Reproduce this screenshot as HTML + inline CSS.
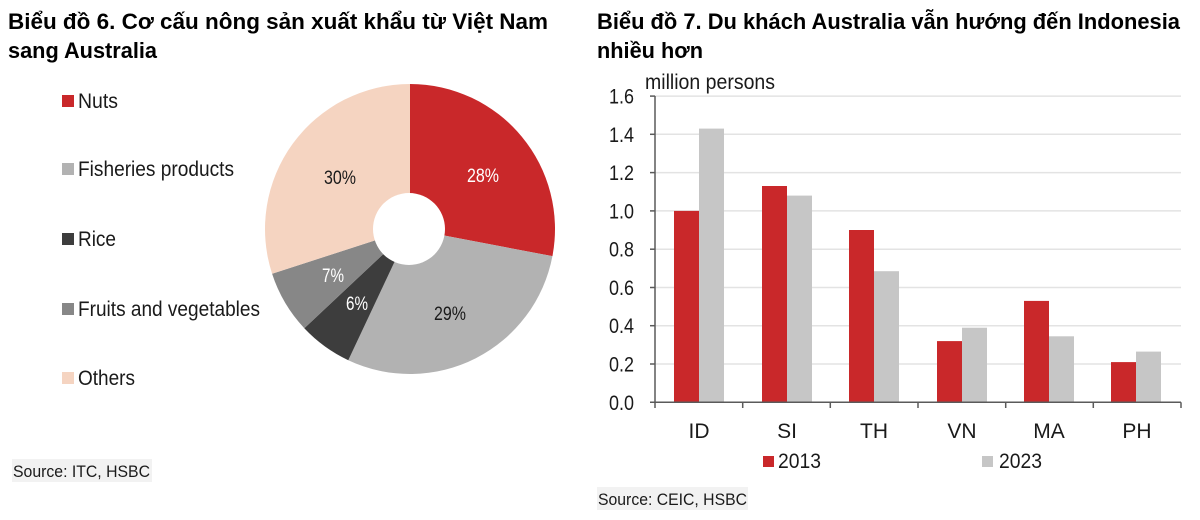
<!DOCTYPE html>
<html><head><meta charset="utf-8"><style>
html,body{margin:0;padding:0;background:#fff;}
svg{display:block;}
text{font-family:"Liberation Sans",Arial,sans-serif;fill:#1a1a1a;}
.t{font-weight:bold;font-size:22px;fill:#000;}
</style></head><body>
<svg width="1200" height="520" viewBox="0 0 1200 520" xmlns="http://www.w3.org/2000/svg">
<rect width="1200" height="520" fill="#fff"/>
<!-- Titles -->
<text class="t" x="8" y="29" textLength="540" lengthAdjust="spacingAndGlyphs">Biểu đồ 6. Cơ cấu nông sản xuất khẩu từ Việt Nam</text>
<text class="t" x="8" y="58" textLength="149" lengthAdjust="spacingAndGlyphs">sang Australia</text>
<text class="t" x="597" y="29" textLength="583" lengthAdjust="spacingAndGlyphs">Biểu đồ 7. Du khách Australia vẫn hướng đến Indonesia</text>
<text class="t" x="597" y="58" textLength="106" lengthAdjust="spacingAndGlyphs">nhiều hơn</text>

<!-- Left legend -->
<g font-size="21">
<rect x="62" y="95" width="12" height="12" fill="#c9282a"/>
<text x="78" y="108" textLength="40" lengthAdjust="spacingAndGlyphs">Nuts</text>
<rect x="62" y="163" width="12" height="12" fill="#b2b2b2"/>
<text x="78" y="176" textLength="156" lengthAdjust="spacingAndGlyphs">Fisheries products</text>
<rect x="62" y="233" width="12" height="12" fill="#3d3d3d"/>
<text x="78" y="246" textLength="38" lengthAdjust="spacingAndGlyphs">Rice</text>
<rect x="62" y="303" width="12" height="12" fill="#878787"/>
<text x="78" y="316" textLength="182" lengthAdjust="spacingAndGlyphs">Fruits and vegetables</text>
<rect x="62" y="372" width="12" height="12" fill="#f5d4c1"/>
<text x="78" y="385" textLength="57" lengthAdjust="spacingAndGlyphs">Others</text>
</g>

<!-- Pie -->
<path d="M410 229 L410 84 A145 145 0 0 1 552.43 256.17 Z" fill="#c9282a"/>
<path d="M410 229 L552.43 256.17 A145 145 0 0 1 348.26 360.20 Z" fill="#b2b2b2"/>
<path d="M410 229 L348.26 360.20 A145 145 0 0 1 304.30 328.26 Z" fill="#3d3d3d"/>
<path d="M410 229 L304.30 328.26 A145 145 0 0 1 272.10 273.81 Z" fill="#878787"/>
<path d="M410 229 L272.10 273.81 A145 145 0 0 1 410 84 Z" fill="#f5d4c1"/>
<circle cx="409" cy="229" r="36" fill="#fff"/>
<g font-size="19" text-anchor="middle">
<text x="483" y="182" style="fill:#fff" textLength="32" lengthAdjust="spacingAndGlyphs">28%</text>
<text x="450" y="320" textLength="32" lengthAdjust="spacingAndGlyphs">29%</text>
<text x="357" y="310" style="fill:#fff" textLength="22" lengthAdjust="spacingAndGlyphs">6%</text>
<text x="333" y="282" style="fill:#fff" textLength="22" lengthAdjust="spacingAndGlyphs">7%</text>
<text x="340" y="184" textLength="32" lengthAdjust="spacingAndGlyphs">30%</text>
</g>

<!-- Left source -->
<rect x="12" y="459" width="140" height="23" fill="#f2f2f2"/>
<text x="13" y="477" font-size="17" textLength="137" lengthAdjust="spacingAndGlyphs">Source: ITC, HSBC</text>

<!-- Right chart -->
<text x="645" y="89" font-size="21" textLength="130" lengthAdjust="spacingAndGlyphs">million persons</text>
<g stroke="#e3e3e3" stroke-width="1.5">
<line x1="655" y1="364.0" x2="1181" y2="364.0"/>
<line x1="655" y1="325.7" x2="1181" y2="325.7"/>
<line x1="655" y1="287.5" x2="1181" y2="287.5"/>
<line x1="655" y1="249.2" x2="1181" y2="249.2"/>
<line x1="655" y1="210.9" x2="1181" y2="210.9"/>
<line x1="655" y1="172.6" x2="1181" y2="172.6"/>
<line x1="655" y1="134.3" x2="1181" y2="134.3"/>
<line x1="655" y1="96.1" x2="1181" y2="96.1"/>
</g>
<!-- bars -->
<g>
<rect x="674" y="210.9" width="25" height="191.4" fill="#c9282a"/>
<rect x="699" y="128.6" width="25" height="273.7" fill="#c6c6c6"/>
<rect x="762" y="186.0" width="25" height="216.3" fill="#c9282a"/>
<rect x="787" y="195.6" width="25" height="206.7" fill="#c6c6c6"/>
<rect x="849" y="230.0" width="25" height="172.3" fill="#c9282a"/>
<rect x="874" y="271.2" width="25" height="131.1" fill="#c6c6c6"/>
<rect x="937" y="341.1" width="25" height="61.2" fill="#c9282a"/>
<rect x="962" y="327.7" width="25" height="74.6" fill="#c6c6c6"/>
<rect x="1024" y="300.9" width="25" height="101.4" fill="#c9282a"/>
<rect x="1049" y="336.3" width="25" height="66.0" fill="#c6c6c6"/>
<rect x="1111" y="362.1" width="25" height="40.2" fill="#c9282a"/>
<rect x="1136" y="351.6" width="25" height="50.7" fill="#c6c6c6"/>
</g>
<!-- axes -->
<g stroke="#5a5a5a" stroke-width="1.5" fill="none">
<line x1="655" y1="96" x2="655" y2="402.3"/>
<line x1="650" y1="402.3" x2="1181" y2="402.3"/>
<line x1="650" y1="364.0" x2="655" y2="364.0"/>
<line x1="650" y1="325.7" x2="655" y2="325.7"/>
<line x1="650" y1="287.5" x2="655" y2="287.5"/>
<line x1="650" y1="249.2" x2="655" y2="249.2"/>
<line x1="650" y1="210.9" x2="655" y2="210.9"/>
<line x1="650" y1="172.6" x2="655" y2="172.6"/>
<line x1="650" y1="134.3" x2="655" y2="134.3"/>
<line x1="650" y1="96.1" x2="655" y2="96.1"/>
<line x1="655" y1="402.3" x2="655" y2="408"/>
<line x1="742.7" y1="402.3" x2="742.7" y2="408"/>
<line x1="830.3" y1="402.3" x2="830.3" y2="408"/>
<line x1="918" y1="402.3" x2="918" y2="408"/>
<line x1="1005.7" y1="402.3" x2="1005.7" y2="408"/>
<line x1="1093.3" y1="402.3" x2="1093.3" y2="408"/>
<line x1="1181" y1="402.3" x2="1181" y2="408"/>
</g>
<!-- y labels -->
<g font-size="21" text-anchor="end">
<text x="634" y="409.8" textLength="25" lengthAdjust="spacingAndGlyphs">0.0</text>
<text x="634" y="371.5" textLength="25" lengthAdjust="spacingAndGlyphs">0.2</text>
<text x="634" y="333.2" textLength="25" lengthAdjust="spacingAndGlyphs">0.4</text>
<text x="634" y="295.0" textLength="25" lengthAdjust="spacingAndGlyphs">0.6</text>
<text x="634" y="256.7" textLength="25" lengthAdjust="spacingAndGlyphs">0.8</text>
<text x="634" y="218.4" textLength="25" lengthAdjust="spacingAndGlyphs">1.0</text>
<text x="634" y="180.1" textLength="25" lengthAdjust="spacingAndGlyphs">1.2</text>
<text x="634" y="141.8" textLength="25" lengthAdjust="spacingAndGlyphs">1.4</text>
<text x="634" y="103.6" textLength="25" lengthAdjust="spacingAndGlyphs">1.6</text>
</g>
<!-- x labels -->
<g font-size="21" text-anchor="middle">
<text x="699" y="438">ID</text>
<text x="787" y="438">SI</text>
<text x="874" y="438">TH</text>
<text x="962" y="438">VN</text>
<text x="1049" y="438">MA</text>
<text x="1137" y="438">PH</text>
</g>
<!-- legend -->
<rect x="763" y="456" width="11" height="11" fill="#c9282a"/>
<text x="778" y="468" font-size="21" textLength="43" lengthAdjust="spacingAndGlyphs">2013</text>
<rect x="982" y="456" width="11" height="11" fill="#c6c6c6"/>
<text x="999" y="468" font-size="21" textLength="43" lengthAdjust="spacingAndGlyphs">2023</text>
<!-- right source -->
<rect x="597" y="487" width="151" height="23" fill="#f2f2f2"/>
<text x="598" y="505" font-size="17" textLength="149" lengthAdjust="spacingAndGlyphs">Source: CEIC, HSBC</text>
</svg>
</body></html>
